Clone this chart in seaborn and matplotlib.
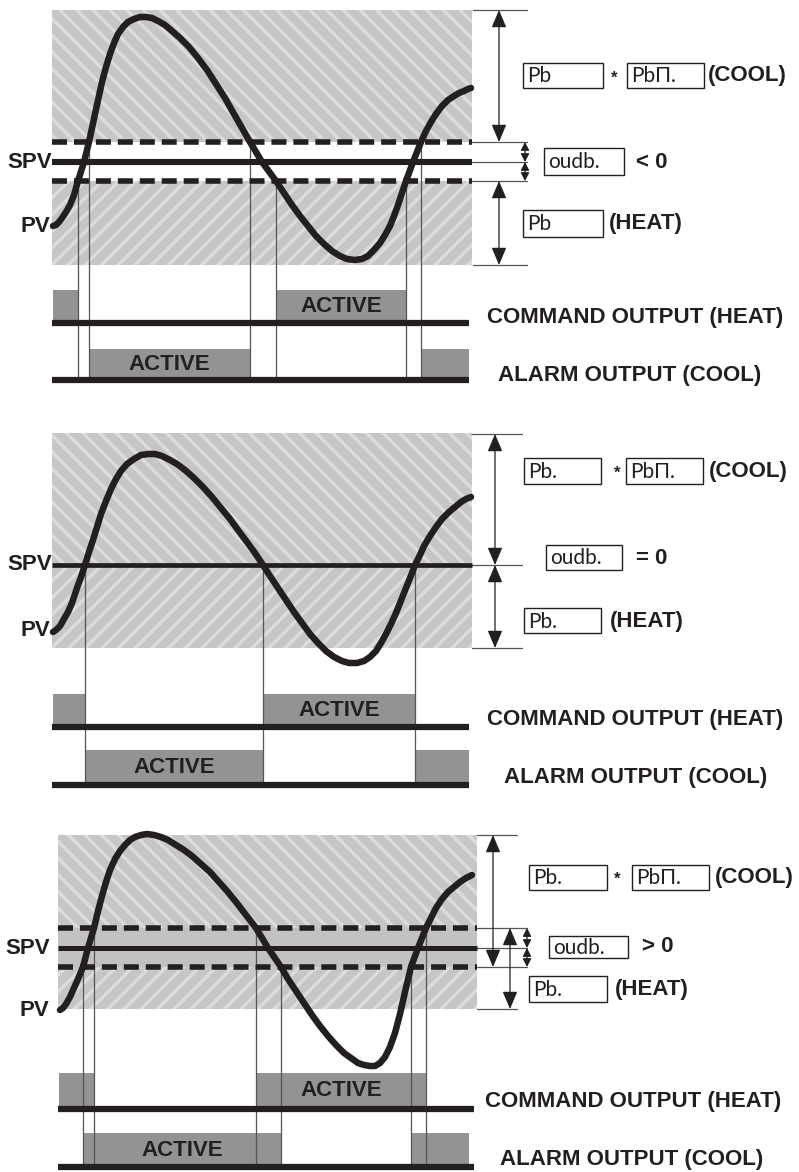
import matplotlib
matplotlib.use("Agg")
import matplotlib.pyplot as plt
from matplotlib.patches import Rectangle
import seaborn as sns

sns.set_theme(style="white")
plt.rcParams["font.family"] = ["Liberation Sans", "DejaVu Sans"]
plt.rcParams["hatch.linewidth"] = 2.4

INK = "#231f20"
BAR = "#939393"
HATCH_FACE = "#c6c6c6"
HATCH_LINE = "#dcdcdc"
GAP = "#c2c2c2"
THIN = "#555555"

# ─────────────────────────────────────────────
# Data (drawing units: x = time, y = PV, screen-down)
# ─────────────────────────────────────────────
# oudb < 0
p1_t = [53, 56, 59, 62, 66, 70, 74, 78, 84, 89, 95, 102, 106, 110, 114, 118, 123, 128, 134, 140,
        146, 152, 158, 165, 172, 180, 189, 198, 207, 216, 225, 234, 242, 250, 262, 276, 284, 292, 300, 308,
        316, 324, 332, 340, 347, 355, 362, 368, 374, 380, 385, 390, 394, 398, 402, 406, 413, 421, 426, 431,
        436, 442, 448, 454, 459, 464, 468, 471]
p1_v = [226, 225, 222, 218, 212, 205, 195, 181, 162, 142, 114, 82, 67, 54, 43, 34, 27, 22, 19, 17,
        17, 18, 21, 25, 31, 38, 47, 58, 70, 84, 98, 114, 128, 142, 162, 181, 193, 205, 216, 226,
        236, 244, 251, 256, 259, 260, 259, 256, 250, 243, 235, 226, 216, 205, 193, 181, 162, 142, 131, 122,
        114, 106, 100, 96, 93, 91, 89, 88]
p1_switch = [78, 89, 250, 276, 406, 421]
p1_switch_v = [181, 142, 142, 181, 181, 142]
p1_heat = [(53, 78), (276, 406)]
p1_cool = [(89, 250), (421, 469)]

# oudb = 0
p2_t = [53, 56, 60, 64, 68, 72, 77, 81, 85, 89, 93, 97, 101, 106, 111, 116, 121, 127, 134, 141,
        148, 155, 162, 170, 177, 185, 194, 203, 212, 221, 230, 238, 247, 255, 263, 270, 278, 286, 294, 302,
        310, 318, 326, 334, 342, 349, 357, 364, 370, 376, 381, 386, 391, 396, 400, 404, 408, 412, 415, 420,
        424, 430, 436, 442, 449, 455, 461, 466, 471]
p2_v = [632, 630, 626, 619, 612, 603, 588, 577, 565, 552, 540, 527, 514, 501, 489, 479, 471, 464, 459, 455,
        454, 454, 456, 460, 464, 470, 478, 487, 497, 508, 519, 530, 542, 553, 565, 576, 588, 600, 612, 623,
        634, 643, 651, 657, 661, 663, 663, 661, 657, 651, 643, 634, 624, 613, 603, 593, 583, 573, 565, 555,
        546, 536, 527, 519, 512, 507, 502, 499, 497]
p2_switch = [85, 263, 415]
p2_switch_v = [565, 565, 565]
p2_heat = [(53, 85), (263, 415)]
p2_cool = [(85, 263), (415, 469)]

# oudb > 0
p3_t = [60, 63, 66, 70, 74, 78, 83, 88, 94, 98, 102, 106, 110, 115, 120, 125, 130, 135, 141, 147,
        154, 161, 168, 176, 184, 192, 201, 210, 218, 227, 236, 246, 256, 268, 281, 288, 296, 304, 312, 320,
        328, 336, 344, 351, 358, 364, 370, 375, 380, 385, 390, 395, 400, 405, 411, 418, 426, 431, 436, 442,
        448, 454, 460, 466, 472]
p3_v = [1010, 1008, 1004, 997, 988, 979, 967, 948, 928, 911, 896, 882, 870, 859, 851, 845, 840, 837, 835, 834,
        835, 837, 840, 845, 850, 856, 864, 872, 881, 891, 902, 915, 928, 948, 967, 979, 991, 1003, 1015, 1026,
        1036, 1045, 1053, 1058, 1063, 1065, 1066, 1066, 1063, 1057, 1047, 1033, 1014, 992, 967, 948, 928, 918, 908, 899,
        892, 887, 882, 878, 875]
p3_switch = [83, 94, 256, 281, 411, 426]
p3_switch_v = [967, 928, 928, 967, 967, 928]
p3_heat = [(59, 94), (256, 426)]
p3_cool = [(83, 281), (411, 469)]

fig = plt.figure(figsize=(7.99, 11.72), dpi=100)
ax = fig.add_axes([0, 0, 1, 1])
ax.set_xlim(0, 799)
ax.set_ylim(1172, 0)
ax.axis("off")


def hatch_box(x0, x1, y0, y1, pattern):
    ax.add_patch(Rectangle((x0, y0), x1 - x0, y1 - y0, facecolor=HATCH_FACE,
                           edgecolor=HATCH_LINE, hatch=pattern, lw=0, zorder=0))


def dbl_arrow(x, y0, y1, small=False):
    style = ("<|-|>,head_length=0.55,head_width=0.28" if small
             else "<|-|>,head_length=0.9,head_width=0.38")
    ax.annotate("", xy=(x, y1), xytext=(x, y0),
                arrowprops=dict(arrowstyle=style, color=INK, lw=0.9,
                                shrinkA=0, shrinkB=0, mutation_scale=12 if not small else 9))


def hline(x0, x1, y):
    ax.plot([x0, x1], [y, y], color=THIN, lw=0.9, zorder=1)


def lcd_box(x0, y0, x1, y1, txt):
    ax.add_patch(Rectangle((x0, y0), x1 - x0, y1 - y0, facecolor="white",
                           edgecolor=INK, lw=1.0, zorder=5))
    ax.text(x0 + 4, (y0 + y1) / 2 + 1, txt, ha="left", va="center", fontsize=15,
            family=["Lato", "DejaVu Sans"], fontweight="normal", color=INK, zorder=6)


def label(x, y, txt, ha="left"):
    ax.text(x, y, txt, ha=ha, va="center", fontsize=16, fontweight="bold", color=INK, zorder=6)


def panel(t, v, switch, switch_v, heat, cool, x0, x1, spv, db_top, db_bot,
          cmd_base, cmd_top, alm_base, alm_top, spv_lw):
    # output bars
    for a, b in heat:
        ax.add_patch(Rectangle((a, cmd_top), b - a, cmd_base - cmd_top, color=BAR, lw=0, zorder=1))
    for a, b in cool:
        ax.add_patch(Rectangle((a, alm_top), b - a, alm_base - alm_top, color=BAR, lw=0, zorder=1))
    big_h = max(heat, key=lambda r: r[1] - r[0])
    big_c = max(cool, key=lambda r: r[1] - r[0])
    ax.text((big_h[0] + big_h[1]) / 2, (cmd_top + cmd_base) / 2, "ACTIVE", ha="center", va="center",
            fontsize=16, fontweight="bold", color=INK, zorder=6)
    ax.text((big_c[0] + big_c[1]) / 2, (alm_top + alm_base) / 2, "ACTIVE", ha="center", va="center",
            fontsize=16, fontweight="bold", color=INK, zorder=6)
    ax.plot([x0, x1 - 3], [cmd_base, cmd_base], color=INK, lw=4.5, solid_capstyle="butt", zorder=3)
    ax.plot([x0, x1 - 3], [alm_base, alm_base], color=INK, lw=4.5, solid_capstyle="butt", zorder=3)
    # switching instants
    for s, sv in zip(switch, switch_v):
        ax.plot([s, s], [sv, alm_base], color=THIN, lw=0.9, zorder=2)
    # set point and dead band
    if db_top is not None:
        for yy in (db_top, db_bot):
            ax.plot([x0, x1], [yy, yy], color=INK, lw=4.0, ls=(0, (2.7, 1.25)),
                    dash_capstyle="butt", zorder=3)
    ax.plot([x0, x1], [spv, spv], color=INK, lw=spv_lw, solid_capstyle="butt", zorder=3)
    # process value
    sns.lineplot(x=t, y=v, sort=False, estimator=None, color=INK, lw=4.7, ax=ax,
                 zorder=4, solid_capstyle="round", solid_joinstyle="round")


# ───────── panel 1 : oudb < 0
hatch_box(52, 472, 10, 142, "\\\\")
hatch_box(52, 472, 181, 265, "//")
panel(p1_t, p1_v, p1_switch, p1_switch_v, p1_heat, p1_cool, 52, 472, 162, 142, 181,
      323, 290, 380, 349, 4.4)
for yy in (142, 162, 181):
    hline(472, 527, yy)
hline(473, 527, 10)
hline(473, 527, 265)
dbl_arrow(499, 10, 142)
dbl_arrow(499, 181, 265)
dbl_arrow(525, 142, 162, small=True)
dbl_arrow(525, 162, 181, small=True)
lcd_box(523, 63, 603, 88, "Pb")
ax.text(614, 78, "*", ha="center", va="center", fontsize=12, fontweight="bold", color=INK)
lcd_box(627, 63, 704, 88, "PbΠ.")
label(708, 75, "(COOL)")
lcd_box(544, 148, 624, 175, "oudb.")
label(636, 162, "< 0")
lcd_box(523, 210, 603, 237, "Pb")
label(609, 224, "(HEAT)")
label(52, 162, "SPV", ha="right")
label(50, 226, "PV", ha="right")
label(487, 318, "COMMAND OUTPUT (HEAT)")
label(498, 376, "ALARM OUTPUT (COOL)")

# ───────── panel 2 : oudb = 0
hatch_box(52, 472, 433, 565, "\\\\")
hatch_box(52, 472, 565, 648, "//")
panel(p2_t, p2_v, p2_switch, p2_switch_v, p2_heat, p2_cool, 52, 472, 565, None, None,
      727, 694, 785, 750, 3.4)
hline(472, 522, 434)
hline(472, 522, 565)
hline(472, 522, 648)
dbl_arrow(495, 434, 565)
dbl_arrow(495, 565, 648)
lcd_box(524, 458, 601, 484, "Pb.")
ax.text(617, 473, "*", ha="center", va="center", fontsize=12, fontweight="bold", color=INK)
lcd_box(626, 458, 703, 484, "PbΠ.")
label(709, 471, "(COOL)")
lcd_box(546, 545, 622, 570, "oudb.")
label(636, 558, "= 0")
lcd_box(524, 608, 601, 633, "Pb.")
label(610, 621, "(HEAT)")
label(52, 565, "SPV", ha="right")
label(50, 630, "PV", ha="right")
label(487, 720, "COMMAND OUTPUT (HEAT)")
label(504, 778, "ALARM OUTPUT (COOL)")

# ───────── panel 3 : oudb > 0
hatch_box(58, 477, 835, 928, "\\\\")
ax.add_patch(Rectangle((58, 928), 419, 39, color=GAP, lw=0, zorder=0))
hatch_box(58, 477, 967, 1009, "//")
panel(p3_t, p3_v, p3_switch, p3_switch_v, p3_heat, p3_cool, 58, 477, 948, 928, 967,
      1109, 1073, 1167, 1133, 3.6)
hline(477, 517, 835)
for yy in (928, 948, 967):
    hline(477, 527, yy)
hline(477, 517, 1009)
dbl_arrow(493, 835, 967)
dbl_arrow(510, 928, 1009)
dbl_arrow(527, 928, 948, small=True)
dbl_arrow(527, 948, 967, small=True)
lcd_box(529, 865, 607, 890, "Pb.")
ax.text(617, 879, "*", ha="center", va="center", fontsize=12, fontweight="bold", color=INK)
lcd_box(632, 865, 709, 890, "PbΠ.")
label(715, 877, "(COOL)")
lcd_box(549, 936, 628, 958, "oudb.")
label(642, 947, "> 0")
lcd_box(529, 976, 607, 1002, "Pb.")
label(615, 989, "(HEAT)")
label(50, 948, "SPV", ha="right")
label(49, 1010, "PV", ha="right")
label(485, 1101, "COMMAND OUTPUT (HEAT)")
label(500, 1159, "ALARM OUTPUT (COOL)")

fig.savefig("out.png", dpi=100)
